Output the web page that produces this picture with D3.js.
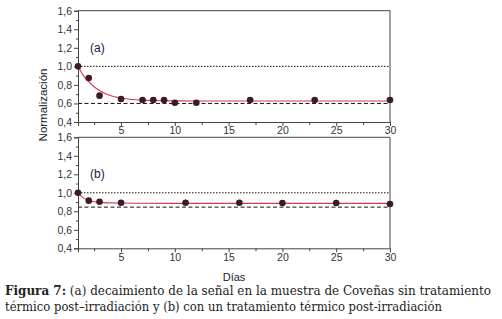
<!DOCTYPE html>
<meta charset="utf-8">
<title>Decaimiento de la señal</title>
<style>
body { margin: 0; background: #fff; }
text { font-family: "Liberation Sans", Arial, sans-serif; }
.caption { font-family: "DejaVu Serif", "Liberation Serif", serif; font-size: 12px; fill: #222; }
</style>
<svg width="502" height="319"></svg>
<script src="https://d3js.org/d3.v7.min.js"></script>
<script>
// days and normalized signal
var daysA = [1, 2, 3, 5, 7, 8, 9, 10, 12, 17, 23, 30];
var valsA = [1.0, 0.874, 0.684, 0.648, 0.637, 0.637, 0.637, 0.608, 0.608, 0.637, 0.637, 0.637];
var fitDaysA = [1, 1.5, 2, 2.5, 3, 4, 5, 6, 7, 8, 10, 12, 15, 30];
var fitValsA = [1.0, 0.9, 0.835, 0.78, 0.74, 0.685, 0.658, 0.643, 0.636, 0.632, 0.628, 0.627, 0.627, 0.627];

var daysB = [1, 2, 3, 5, 11, 16, 20, 25, 30];
var valsB = [1.0, 0.915, 0.904, 0.893, 0.893, 0.893, 0.889, 0.889, 0.879];
var fitDaysB = [1, 1.5, 2, 2.5, 3, 4, 5, 7, 10, 30];
var fitValsB = [1.0, 0.945, 0.918, 0.904, 0.897, 0.891, 0.889, 0.887, 0.886, 0.886];

var refTop = 1.0;          // dotted line
var refA = 0.6, refB = 0.845; // dashed lines

var yTicks = [0.4, 0.6, 0.8, 1.0, 1.2, 1.4, 1.6];
var xTicks = [5, 10, 15, 20, 25, 30];

var svg = d3.select("svg");
svg.append("rect").attr("width", 502).attr("height", 319).attr("fill", "#fff");

var left = 78, right = 390;
var x = d3.scaleLinear().domain([1, 30]).range([left, right]);
var fmt = function(d) { return d3.format(".1f")(d).replace(".", ","); };

function panel(top, bottom, days, vals, fitDays, fitVals, dashed, label) {
  var y = d3.scaleLinear().domain([0.4, 1.6]).range([bottom, top]);
  var g = svg.append("g");

  // frame top + right
  g.append("path")
    .attr("d", "M" + left + "," + top + "H" + right + "V" + bottom)
    .attr("fill", "none").attr("stroke", "#444").attr("stroke-width", 1);

  // reference lines
  g.append("line")
    .attr("x1", left).attr("x2", right).attr("y1", y(refTop)).attr("y2", y(refTop))
    .attr("stroke", "#111").attr("stroke-dasharray", "1.5,1.5");
  g.append("line")
    .attr("x1", left).attr("x2", right).attr("y1", y(dashed)).attr("y2", y(dashed))
    .attr("stroke", "#111").attr("stroke-dasharray", "4,2.5");

  // axes
  g.append("g").attr("transform", "translate(" + left + ",0)")
    .call(d3.axisLeft(y).tickValues(yTicks).tickFormat(fmt).tickSize(4).tickPadding(2));
  g.append("g").attr("transform", "translate(" + left + ",0)")
    .call(d3.axisLeft(y).tickValues(d3.range(0.5, 1.6, 0.2)).tickFormat("").tickSize(2))
    .select(".domain").remove();
  g.append("g").attr("transform", "translate(0," + bottom + ")")
    .call(d3.axisBottom(x).tickValues(xTicks).tickSize(4).tickPadding(1));
  g.append("g").attr("transform", "translate(0," + bottom + ")")
    .call(d3.axisBottom(x).tickValues(d3.range(2.5, 30, 5)).tickFormat("").tickSize(3))
    .select(".domain").remove();
  g.selectAll(".domain, .tick line").attr("stroke", "#444");
  g.selectAll(".tick text").attr("fill", "#333").attr("font-size", 10.5)
    .attr("font-family", "Liberation Sans, Arial, sans-serif");

  // fit curve
  var line = d3.line()
    .x(function(d, i) { return x(fitDays[i]); })
    .y(function(d) { return y(d); })
    .curve(d3.curveMonotoneX);
  g.append("path").datum(fitVals)
    .attr("d", line).attr("fill", "none")
    .attr("stroke", "#d23a4e").attr("stroke-width", 1.1);

  // points
  g.selectAll("circle").data(vals).enter().append("circle")
    .attr("cx", function(d, i) { return x(days[i]); })
    .attr("cy", function(d) { return y(d); })
    .attr("r", 3.3)
    .attr("fill", "#3a1c22");

  g.append("text").attr("x", 90).attr("y", y(1.2) + 4)
    .attr("font-size", 12).attr("fill", "#1a1a3a").text(label);
}

panel(10.7, 122, daysA, valsA, fitDaysA, fitValsA, refA, "(a)");
panel(137.3, 248.3, daysB, valsB, fitDaysB, fitValsB, refB, "(b)");

svg.append("text")
  .attr("transform", "translate(47,105) rotate(-90)")
  .attr("text-anchor", "middle").attr("font-size", 11.5).attr("fill", "#222")
  .text("Normalización");

svg.append("text")
  .attr("x", 234).attr("y", 281)
  .attr("text-anchor", "middle").attr("font-size", 11).attr("fill", "#222")
  .text("Días");

var cap1 = svg.append("text").attr("class", "caption").attr("x", 5).attr("y", 295)
  .attr("textLength", 486).attr("lengthAdjust", "spacingAndGlyphs");
cap1.append("tspan").attr("font-weight", "bold").text("Figura 7:");
cap1.append("tspan").text(" (a) decaimiento de la señal en la muestra de Coveñas sin tratamiento");

svg.append("text").attr("class", "caption").attr("x", 5).attr("y", 311)
  .attr("textLength", 437).attr("lengthAdjust", "spacingAndGlyphs")
  .text("térmico post–irradiación y (b) con un tratamiento térmico post-irradiación");
</script>
